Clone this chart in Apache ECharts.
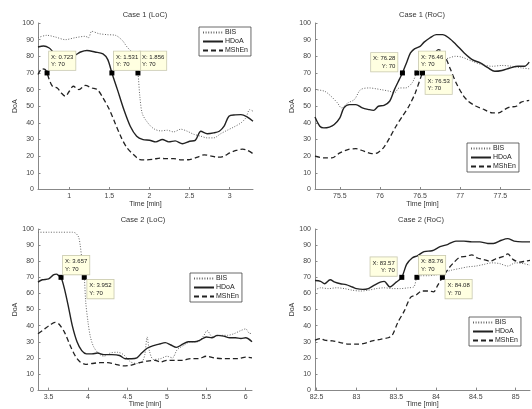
<!DOCTYPE html>
<html><head><meta charset="utf-8">
<script src="https://cdn.jsdelivr.net/npm/echarts@6/dist/echarts.min.js"></script>
<style>html,body{margin:0;padding:0;background:#fff}#c{width:532px;height:409px}</style>
</head><body><div id="c"></div><script>
// ---------- DATA ----------
const seriesNames = ['BIS','HDoA','MShEn'];
const panelTitles = ['Case 1 (LoC)','Case 1 (RoC)','Case 2 (LoC)','Case 2 (RoC)'];
const yTicks = [0,10,20,30,40,50,60,70,80,90,100];
const tlXTicks = [1,1.5,2,2.5,3];
const trXTicks = [75.5,76,76.5,77,77.5];
const blXTicks = [3.5,4,4.5,5,5.5,6];
const brXTicks = [82.5,83,83.5,84,84.5,85];
const xRanges = [[0.61,3.29],[75.19,77.87],[3.365,6.08],[82.48,85.18]];

// Case 1 (LoC)
const tlBisX = [0.61,0.72,0.825,0.95,1.075,1.2,1.24,1.28,1.37,1.47,1.575,1.66,1.72,1.78,1.825,1.856,1.88,1.91,1.97,2.05,2.14,2.22,2.3,2.39,2.47,2.55,2.64,2.72,2.8,2.89,2.97,3.05,3.14,3.2,3.25,3.29];
const tlBisY = [91.2,92.6,91.6,90,91.2,92,91.2,95,93.6,93,92.6,89.6,85.6,82.6,79.6,70,55.6,45.6,40.6,36.6,35.2,35.6,34.6,36.2,35,33.2,32,31,31,33.6,35.6,37.5,40,43,48,47];
const tlHdoaX = [0.61,0.68,0.75,0.83,0.9,0.98,1.06,1.14,1.22,1.32,1.42,1.48,1.531,1.6,1.68,1.76,1.84,1.92,2.0,2.08,2.16,2.24,2.32,2.41,2.5,2.57,2.64,2.72,2.8,2.87,2.93,2.99,3.07,3.14,3.22,3.29];
const tlHdoaY = [85.6,86.2,85,81.6,82.5,81.5,80.6,82.6,83.5,82.6,81.5,78,70,60,48,38,32,30,29.6,28.6,30,28.6,29.2,27.5,29,29.5,35,33.5,34,35,38,44,44.8,45,43.5,41];
const tlMsheX = [0.61,0.66,0.7,0.723,0.75,0.79,0.85,0.9,0.95,1.0,1.05,1.12,1.2,1.28,1.35,1.42,1.5,1.57,1.65,1.72,1.8,1.88,1.96,2.05,2.13,2.2,2.3,2.4,2.5,2.6,2.68,2.76,2.84,2.92,3.0,3.08,3.16,3.22,3.29];
const tlMsheY = [69,72.5,72,70,66,62,61,58,56,59,62,60,62.5,61,60,55,48,40,31,25,21,18,17.8,18.2,18.8,18.5,18.5,17.8,18,19.5,20.8,20.2,19.4,19.8,22,23.5,24.2,23.5,21.5];

// Case 1 (RoC)
const trBisX = [75.19,75.31,75.39,75.47,75.52,75.6,75.68,75.76,75.87,75.95,76.01,76.12,76.18,76.24,76.32,76.4,76.46,76.53,76.61,76.69,76.78,76.86,76.94,77.02,77.15,77.27,77.4,77.52,77.64,77.77,77.86];
const trBisY = [60,59,56,52,49,52,54,60,61,60.5,60,59,58,61,61,64,70,74,77,78,78,79,80,79.5,77,75,74,74.5,74,73,72.5];
const trHdoaX = [75.19,75.25,75.3,75.37,75.43,75.5,75.55,75.62,75.7,75.78,75.86,75.92,75.98,76.05,76.12,76.18,76.24,76.28,76.33,76.38,76.43,76.5,76.55,76.62,76.7,76.78,76.86,76.95,77.05,77.15,77.25,77.35,77.43,77.52,77.62,77.72,77.8,77.86];
const trHdoaY = [43.5,38,37,37.5,39,43,49,51,51,49,48,47.5,50,50.5,53,60,66,70,76,82,84.5,86,88.5,91,93,93,91,87,82,78,76,73,71,71.5,73,74,74,76.5];
const trMsheX = [75.19,75.3,75.4,75.5,75.6,75.7,75.8,75.9,75.97,76.05,76.12,76.2,76.28,76.36,76.44,76.53,76.6,76.67,76.73,76.77,76.82,76.88,76.95,77.03,77.1,77.2,77.3,77.4,77.48,77.55,77.62,77.7,77.76,77.86];
const trMsheY = [20,19,19,22,24,24.5,23,21.5,22,25.5,31,38,44,50,58,70,76,81,84,83,79,72,64,57,53,50,48,46,46,48,49.5,50,52.5,53.5];

// Case 2 (LoC)
const blBisX = [3.365,3.5,3.65,3.8,3.84,3.88,3.9,3.92,3.952,3.97,4.0,4.03,4.07,4.13,4.2,4.28,4.37,4.45,4.54,4.62,4.69,4.72,4.75,4.78,4.83,4.92,5.0,5.07,5.13,5.22,5.3,5.39,5.47,5.51,5.58,5.68,5.77,5.85,5.94,6.0,6.04,6.08];
const blBisY = [98,98,98,98,97.5,95,90,82,70,55,42,33,27,23,21,23,23.5,22,17.5,16.5,18,22,33,24,19,19.5,21,20,25,28,30,30,34,37,33,34,34,35,37,38,35.5,35];
const blHdoaX = [3.365,3.42,3.5,3.56,3.6,3.63,3.657,3.7,3.75,3.8,3.86,3.92,3.98,4.05,4.12,4.2,4.3,4.4,4.47,4.55,4.62,4.68,4.75,4.82,4.9,4.98,5.05,5.12,5.2,5.27,5.35,5.42,5.5,5.57,5.64,5.72,5.8,5.87,5.94,6.0,6.08];
const blHdoaY = [67,68.5,69,71.5,72,71,70,63,52,40,30,24.5,22.5,22.5,23,22,22,21.5,19.5,19.5,20,23,26,27.5,28.5,29.5,28,26.5,28.5,30,30,31,33,32.5,34,33.5,32.5,32.5,32,32.5,30];
const blMsheX = [3.365,3.45,3.52,3.58,3.63,3.7,3.77,3.84,3.9,3.97,4.05,4.15,4.25,4.35,4.45,4.55,4.65,4.75,4.85,4.92,5.0,5.1,5.2,5.3,5.4,5.5,5.6,5.7,5.8,5.9,6.0,6.08];
const blMsheY = [35,38,40.5,42,41,36,28,21,17.5,16,16.5,17,17,16,15,15.5,17,18,18.5,17.5,18.5,18.5,18.5,19.5,19.5,21,20,19.5,19.5,19.5,20.5,20];

// Case 2 (RoC)
const brBisX = [82.48,82.55,82.65,82.75,82.85,82.95,83.05,83.15,83.25,83.35,83.45,83.55,83.65,83.72,83.76,83.8,83.9,84.0,84.1,84.2,84.3,84.4,84.5,84.6,84.7,84.8,84.9,85.0,85.1,85.18];
const brBisY = [62,63.5,63,63.5,63,62,61.5,62,63,63.5,63,63,63.5,64,70,71,71,71.5,73,74.5,75.5,76.5,77,78,79,78.5,77,79,78.5,77.5];
const brHdoaX = [82.48,82.55,82.6,82.67,82.73,82.8,82.87,82.95,83.0,83.08,83.15,83.22,83.3,83.35,83.42,83.5,83.57,83.63,83.7,83.77,83.85,83.95,84.05,84.15,84.25,84.35,84.45,84.55,84.65,84.72,84.82,84.9,84.98,85.08,85.18];
const brHdoaY = [68,67.5,66,68.5,67,66,65.5,64,63,62.5,63,65,67,67.5,64,67,70,78,82,83.5,86,86.5,89,90.5,92.5,92.5,92,92,91,91,93,94,92.5,92,92];
const brMsheX = [82.48,82.55,82.6,82.7,82.8,82.9,83.0,83.1,83.2,83.3,83.4,83.45,83.52,83.6,83.68,83.75,83.82,83.9,83.97,84.02,84.08,84.15,84.22,84.3,84.38,84.45,84.52,84.6,84.68,84.75,84.85,84.9,84.97,85.05,85.12,85.18];
const brMsheY = [31,32,31,30.5,29.5,28.5,28.5,29,30.5,31.5,32.5,34,42,49,57.5,59,61.5,61.5,61,65,70,75,79,82.5,83,84,82,81,80,81.5,83,84.5,81,79.5,80,80.5];

// Data tips: [series, x, y]
const tlTips = [['MShEn',0.723,70],['HDoA',1.531,70],['BIS',1.856,70]];
const trTips = [['HDoA',76.28,70],['BIS',76.46,70],['MShEn',76.53,70]];
const blTips = [['HDoA',3.657,70],['BIS',3.952,70]];
const brTips = [['HDoA',83.57,70],['BIS',83.76,70],['MShEn',84.08,70]];

// ---------- LAYOUT / STYLE ----------
const FONT = 'Liberation Sans, Arial, sans-serif';
const grids = [
  {left:38, top:23, width:215, height:166.5},
  {left:315, top:23, width:215, height:166.5},
  {left:38, top:229, width:214, height:165.5},
  {left:315, top:229, width:215, height:165.5}
];
const xTicksAll = [tlXTicks, trXTicks, blXTicks, brXTicks];
const panelData = [
  [[tlBisX,tlBisY],[tlHdoaX,tlHdoaY],[tlMsheX,tlMsheY]],
  [[trBisX,trBisY],[trHdoaX,trHdoaY],[trMsheX,trMsheY]],
  [[blBisX,blBisY],[blHdoaX,blHdoaY],[blMsheX,blMsheY]],
  [[brBisX,brBisY],[brHdoaX,brHdoaY],[brMsheX,brMsheY]]
];
const panelTips = [tlTips, trTips, blTips, brTips];
const tipPlaces = [['ur','ur','ur'],['ul','ur','lr'],['ur','lr'],['ul','ur','lr']];
const legendPos = [
  {left:199, top:27},
  {left:467, top:143},
  {left:190, top:273},
  {left:469, top:317}
];
const titlePos = [[145,15],[422,15],[143,220],[421,220]];
const lineStyles = {
  BIS: {color:'#666', width:1, type:[1,1.6]},
  HDoA: {color:'#222', width:1.4, type:'solid'},
  MShEn: {color:'#222', width:1.3, type:[5,3]}
};

function tipLabel(place){
  const base = {show:true, fontSize:6, lineHeight:7.5, color:'#222', fontFamily:FONT,
    backgroundColor:'#ffffe1', borderColor:'#c9c9b0', borderWidth:0.8, padding:[2,2,1.5,2],
    formatter: p => 'X: ' + p.data.coord[0] + '\nY: ' + p.data.coord[1]};
  if (place === 'ur') return Object.assign(base, {position:[4.5,-19], align:'left', verticalAlign:'top'});
  if (place === 'lr') return Object.assign(base, {position:[5.5,5], align:'left', verticalAlign:'top'});
  return Object.assign(base, {position:[-2.5,-17.5], align:'right', verticalAlign:'top'});
}

const xAxes = [], yAxes = [], series = [], legends = [], graphics = [];
for (let i = 0; i < 4; i++) {
  const ticks = xTicksAll[i];
  xAxes.push({
    type:'value', gridIndex:i, min:xRanges[i][0], max:xRanges[i][1],
    name:'Time [min]', nameLocation:'middle', nameGap:9,
    nameTextStyle:{fontSize:7, color:'#333', fontFamily:FONT},
    axisLine:{lineStyle:{color:'#888', width:1}},
    axisTick:{inside:true, length:2.5, customValues:ticks, lineStyle:{color:'#888'}},
    axisLabel:{customValues:ticks, fontSize:7, color:'#444', margin:3, fontFamily:FONT},
    splitLine:{show:false}
  });
  yAxes.push({
    type:'value', gridIndex:i, min:0, max:100, interval:10,
    name:'DoA', nameLocation:'middle', nameGap:(i%2===0?12:13),
    nameTextStyle:{fontSize:7, color:'#333', fontFamily:FONT},
    axisLine:{show:true, lineStyle:{color:'#888', width:1}},
    axisTick:{show:true, inside:true, length:2.5, lineStyle:{color:'#888'}},
    axisLabel:{fontSize:7, color:'#444', margin:4, fontFamily:FONT},
    splitLine:{show:false}
  });
  seriesNames.forEach((nm, k) => {
    const xs = panelData[i][k][0], ys = panelData[i][k][1];
    const tips = panelTips[i].map((t, j) => ({t, place:tipPlaces[i][j]})).filter(o => o.t[0] === nm);
    series.push({
      type:'line', name:nm, xAxisIndex:i, yAxisIndex:i,
      data: xs.map((x, j) => [x, ys[j]]),
      symbol:'none', smooth:0.3, silent:true, animation:false,
      lineStyle: lineStyles[nm], itemStyle:{color:lineStyles[nm].color},
      z: 2,
      markPoint: tips.length ? {
        silent:true, animation:false, z:10,
        symbol:'rect', symbolSize:5,
        itemStyle:{color:'#000', borderColor:'#000', borderWidth:0},
        data: tips.map(o => ({coord:[o.t[1], o.t[2]], label: tipLabel(o.place)}))
      } : undefined
    });
  });
  legends.push({
    data: seriesNames, orient:'vertical', left:legendPos[i].left, top:legendPos[i].top,
    itemWidth:20, itemHeight:7, itemGap:2, padding:[2,3,2,3],
    borderColor:'#444', borderWidth:0.8, backgroundColor:'#fff', borderRadius:0,
    selectedMode:false,
    itemStyle:{color:'rgba(0,0,0,0)', borderColor:'rgba(0,0,0,0)', borderWidth:0, opacity:0},
    textStyle:{fontSize:7, color:'#222', fontFamily:FONT, padding:[0,0,0,-3]}
  });
  graphics.push({type:'text', x:titlePos[i][0], y:titlePos[i][1], silent:true,
    style:{text:panelTitles[i], fontSize:7.5, fill:'#333', fontFamily:FONT, align:'center', verticalAlign:'middle'}});
}

const chart = echarts.init(document.getElementById('c'), null, {renderer:'canvas'});
chart.setOption({
  animation:false,
  backgroundColor:'#fff',
  grid: grids,
  xAxis: xAxes,
  yAxis: yAxes,
  legend: legends,
  graphic: graphics,
  series: series
});
</script></body></html>
